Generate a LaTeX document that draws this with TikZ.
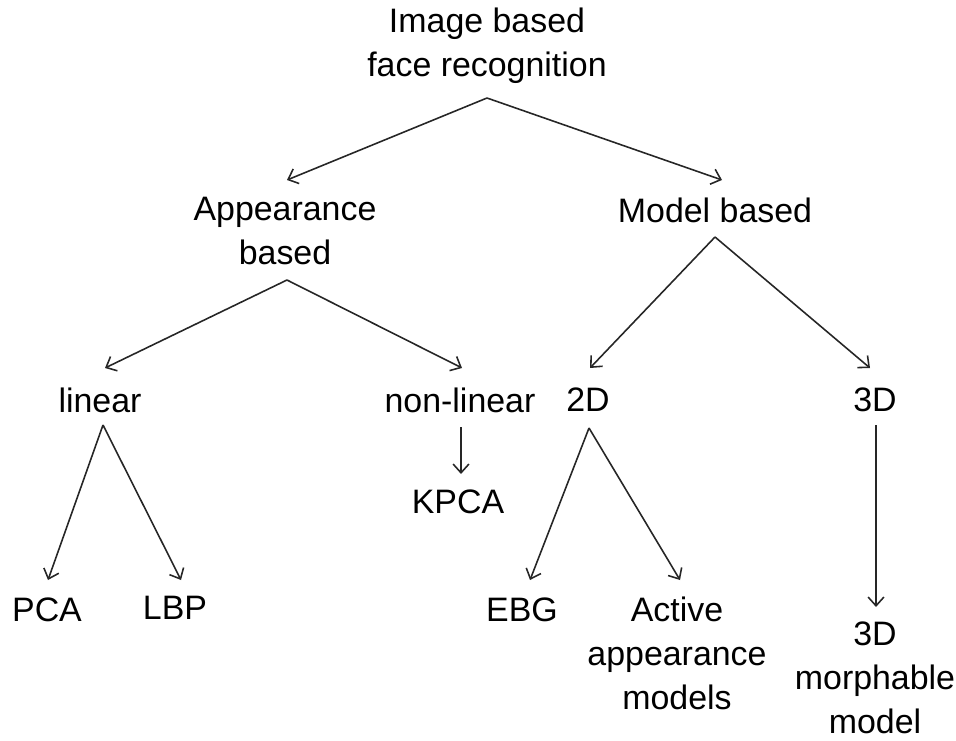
\documentclass[tikz,border=0pt]{standalone}
\usepackage{fontspec}
\setmainfont{Liberation Sans}
\usetikzlibrary{arrows.meta}
\begin{document}
\begin{tikzpicture}[x=0.02cm,y=-0.02cm,
  lbl/.style={align=center,inner sep=0pt,font=\fontsize{19.3}{25}\selectfont},
  arr/.style={-{Straight Barb[length=5pt,width=9pt]},line width=0.9pt,draw=black!85}]
\useasboundingbox (0,0) rectangle (956,740);
% labels
\node[lbl] (root) at (487,46) {Image based\\face recognition};
\node[lbl] (app) at (285,231) {Appearance\\based};
\node[lbl] (model) at (715,210) {Model based};
\node[lbl] (lin) at (100,400) {linear};
\node[lbl] (nonlin) at (460,400) {non-linear};
\node[lbl] (twoD) at (588,400) {2D};
\node[lbl] (threeD) at (875,400) {3D};
\node[lbl] (kpca) at (458,502) {KPCA};
\node[lbl] (pca) at (47,610) {PCA};
\node[lbl] (lbp) at (175,608) {LBP};
\node[lbl] (ebg) at (522,610) {EBG};
\node[lbl] (aam) at (677,653) {Active\\appearance\\models};
\node[lbl] (morph) at (875,678) {3D\\morphable\\model};
% connector end points
\coordinate (r0) at (487,98);
\coordinate (a1) at (287,180);
\coordinate (m1) at (722,180);
\coordinate (a0) at (287,280);
\coordinate (l1) at (105,368);
\coordinate (n1) at (462,368);
\coordinate (m0) at (715,237);
\coordinate (t1) at (590,368);
\coordinate (h1) at (870,368);
\coordinate (l0) at (103,425);
\coordinate (pc1) at (48,580);
\coordinate (lb1) at (181,580);
\coordinate (n0) at (461,427);
\coordinate (k1) at (461,474);
\coordinate (t0) at (589,428);
\coordinate (e1) at (530,580);
\coordinate (aa1) at (680,580);
\coordinate (h0) at (876,425);
\coordinate (mo1) at (876,607);
% connectors
\draw[arr] (r0) -- (a1);
\draw[arr] (r0) -- (m1);
\draw[arr] (a0) -- (l1);
\draw[arr] (a0) -- (n1);
\draw[arr] (m0) -- (t1);
\draw[arr] (m0) -- (h1);
\draw[arr] (l0) -- (pc1);
\draw[arr] (l0) -- (lb1);
\draw[arr] (n0) -- (k1);
\draw[arr] (t0) -- (e1);
\draw[arr] (t0) -- (aa1);
\draw[arr] (h0) -- (mo1);
\end{tikzpicture}
\end{document}
